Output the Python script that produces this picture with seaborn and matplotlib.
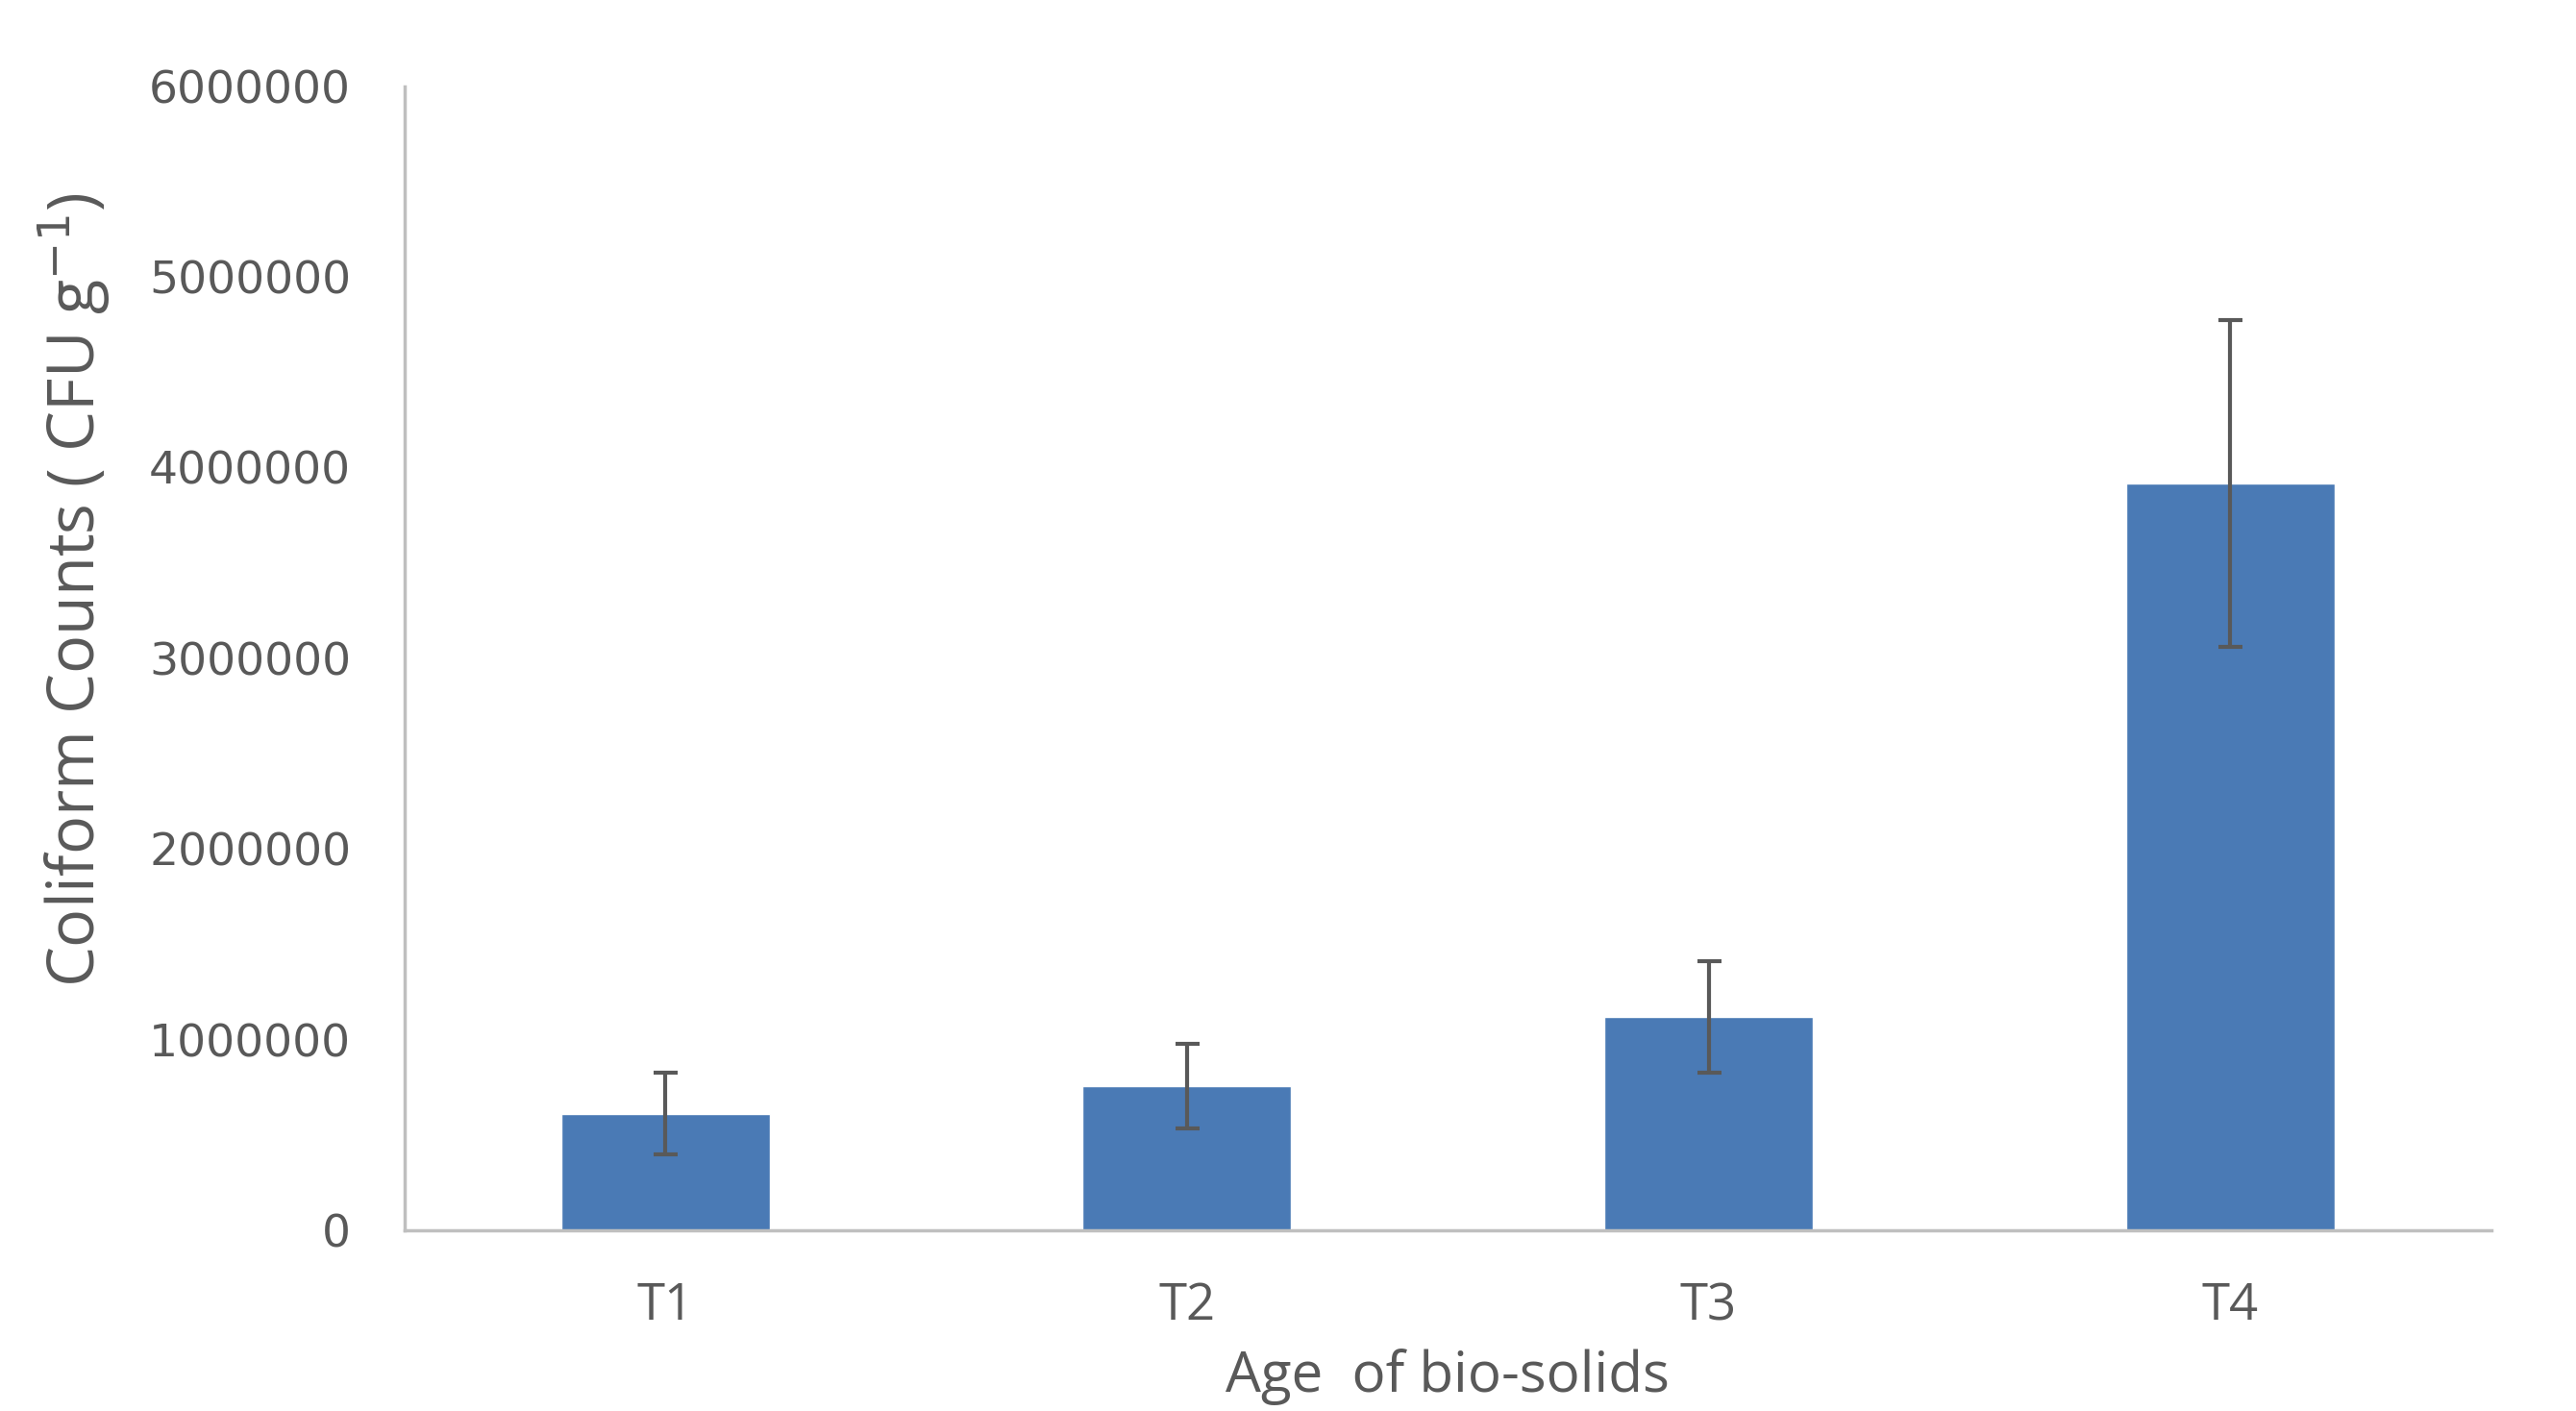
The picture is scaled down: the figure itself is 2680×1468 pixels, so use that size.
import pandas as pd
import matplotlib.pyplot as plt
import seaborn as sns

# values
groups = ["T1", "T2", "T3", "T4"]
counts = [612000, 757000, 1119000, 3916000]
errs = [215000, 220000, 292000, 856000]

sns.set_style("white")
plt.rcParams["font.family"] = ["Open Sans", "DejaVu Sans"]

df = pd.DataFrame({"group": groups, "count": counts, "err": errs})

fig = plt.figure(figsize=(26.8, 14.68), dpi=100)
ax = fig.add_axes([0.157, 0.128, 0.81, 0.811])
sns.barplot(data=df, x="group", y="count", color="#4a7ab5", saturation=1,
            width=0.4, errorbar=None, ax=ax)
ax.errorbar(x=range(len(groups)), y=df["count"], yerr=df["err"], fmt="none",
            ecolor="#595959", elinewidth=3, capsize=9, capthick=3)

ax.set_ylim(0, 6000000)
ax.set_yticks(range(0, 6000001, 1000000))
ax.set_yticklabels([str(v) for v in range(0, 6000001, 1000000)],
                   family="DejaVu Sans")
ax.set_xlim(-0.5, 3.5)
ax.tick_params(axis="both", length=0, labelcolor="#595959")
ax.tick_params(axis="y", pad=40, labelsize=34)
ax.tick_params(axis="x", pad=38, labelsize=38)

sns.despine(ax=ax, top=True, right=True)
for s in ["left", "bottom"]:
    ax.spines[s].set_color("#bfbfbf")
    ax.spines[s].set_linewidth(2.5)

ax.set_xlabel("Age  of bio-solids", fontsize=42, color="#595959", labelpad=12)
ax.set_ylabel("Coliform Counts ( CFU g$^{-1}$)", fontsize=48, color="#595959")
ax.yaxis.set_label_coords(-0.140, 0.56)

fig.savefig("out.png", dpi=100, facecolor="white")
